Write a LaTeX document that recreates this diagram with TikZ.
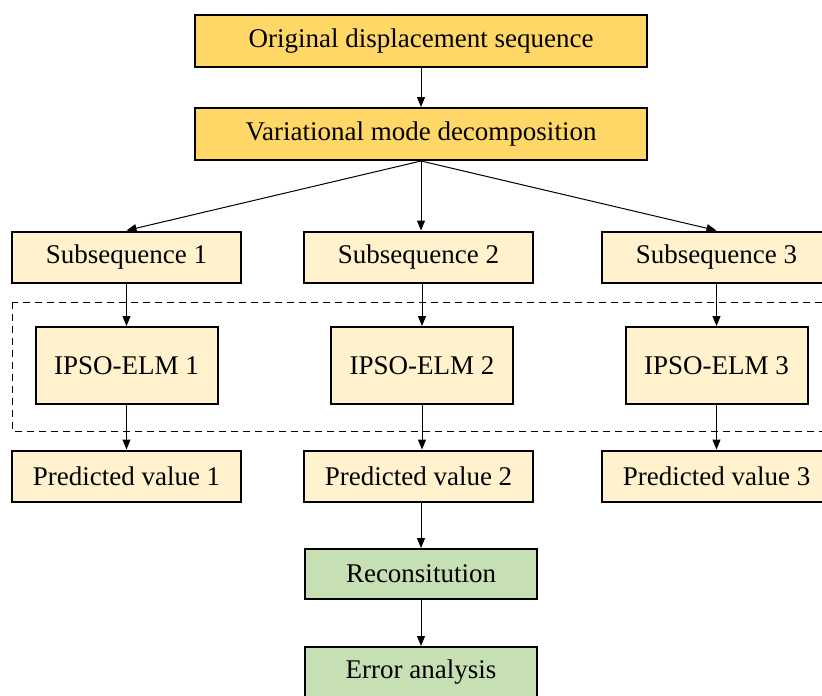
\documentclass[tikz,border=0pt]{standalone}
\usepackage{fontspec}
\setmainfont{Liberation Serif}
\usetikzlibrary{arrows.meta}
\usetikzlibrary{positioning}
\definecolor{stepgold}{HTML}{FFD766}
\definecolor{steplight}{HTML}{FFF2CC}
\definecolor{stepgreen}{HTML}{C6E0B4}
\tikzset {
  % path style for the flow arrows
  flow/.style = {
    draw = black,
    line width = 1pt,
    -{Triangle[length=10pt, width=8pt]}
  },
  % grouping frame
  group frame/.style = {
    draw = black,
    line width = 1pt,
    dash pattern = on 7pt off 5pt
  }
}
\tikzset {
  flow node/.style = {
    draw = black,
    line width = 2pt,
    rectangle,
    inner sep = 0,
    font = \fontsize{27}{30}\selectfont
  },
  % main stage
  stage/.style = {
    flow node,
    fill = stepgold,
    minimum width = 452pt,
    minimum height = 52pt
  },
  % one branch
  branch/.style = {
    flow node,
    fill = steplight,
    minimum width = 229pt,
    minimum height = 51pt
  },
  % model box
  model/.style = {
    flow node,
    fill = steplight,
    minimum width = 182pt,
    minimum height = 77pt
  },
  % result stage
  result/.style = {
    flow node,
    fill = stepgreen,
    minimum width = 232pt,
    minimum height = 50pt
  }
}

\begin{document}
\begin{tikzpicture}[x=1pt, y=-1pt]
    \useasboundingbox (0,0) rectangle (822,696);
    \clip (0,0) rectangle (822,696);

    \node[stage] (original) at (421,41) {Original displacement sequence};
    \node[stage] (vmd) at (421,134) {Variational mode decomposition};

    \node[branch] (sub-1) at (126.5,257) {Subsequence 1};
    \node[branch] (sub-2) at (418.5,257) {Subsequence 2};
    \node[branch] (sub-3) at (716.5,257) {Subsequence 3};

    \node[model] (elm-1) at (126.5,365.5) {IPSO-ELM 1};
    \node[model] (elm-2) at (422,365.5) {IPSO-ELM 2};
    \node[model] (elm-3) at (716.5,365.5) {IPSO-ELM 3};

    \node[branch] (pred-1) at (126.5,476) {Predicted value 1};
    \node[branch] (pred-2) at (418.5,476) {Predicted value 2};
    \node[branch] (pred-3) at (716.5,476) {Predicted value 3};

    \node[result] (recon) at (421,574) {Reconsitution};
    \node[result] (error) at (421,672) {Error analysis};

    \coordinate (frame-nw) at (12,302);
    \coordinate (frame-se) at (834,431);
    \draw[group frame] (frame-nw) rectangle (frame-se);

    \draw[flow] (original) -- (vmd);
    \draw[flow] (vmd.south) -- (sub-1.north);
    \draw[flow] (vmd.south) -- (sub-2.north -| vmd.south);
    \draw[flow] (vmd.south) -- (sub-3.north);

    \draw[flow] (sub-1) -- (elm-1);
    \draw[flow] (sub-2.south -| elm-2) -- (elm-2);
    \draw[flow] (sub-3) -- (elm-3);

    \draw[flow] (elm-1) -- (pred-1);
    \draw[flow] (elm-2) -- (pred-2.north -| elm-2);
    \draw[flow] (elm-3) -- (pred-3);

    \draw[flow] (pred-2.south -| recon) -- (recon);
    \draw[flow] (recon) -- (error);
  \end{tikzpicture}
\end{document}
